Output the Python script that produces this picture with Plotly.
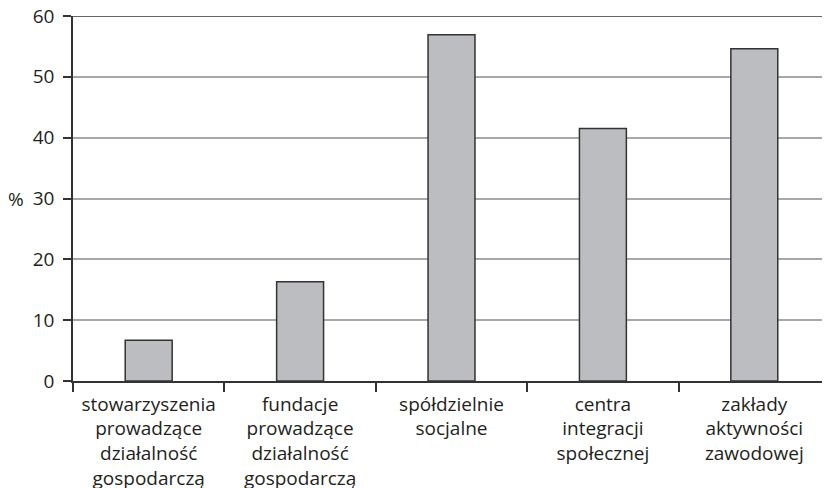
import plotly.graph_objects as go

categories = [
    "stowarzyszenia<br>prowadzące<br>działalność<br>gospodarczą",
    "fundacje<br>prowadzące<br>działalność<br>gospodarczą",
    "spółdzielnie<br>socjalne",
    "centra<br>integracji<br>społecznej",
    "zakłady<br>aktywności<br>zawodowej",
]
values = [6.7, 16.3, 56.9, 41.5, 54.6]
y_ticks = [0, 10, 20, 30, 40, 50, 60]

txt = "#231f20"
font = dict(family="Open Sans, Noto Sans, sans-serif", size=19, color=txt)

fig = go.Figure()
fig.add_trace(go.Bar(
    x=categories, y=values,
    marker=dict(color="#bcbdc1", line=dict(color="#333333", width=1.5)),
    width=0.31,
))

fig.update_layout(
    width=822, height=480,
    margin=dict(l=65, r=0, t=8, b=107, autoexpand=False),
    paper_bgcolor="white", plot_bgcolor="white",
    font=font,
    showlegend=False,
    xaxis=dict(
        type="category",
        tickson="boundaries",
        ticks="outside", ticklen=9, tickwidth=1.5, tickcolor="#333333",
        showline=True, linecolor="#333333", linewidth=1.5,
        showgrid=False,
        range=[-0.5, 4.5],
        ticklabelstandoff=5,
        ticklabeloverflow="allow",
        automargin=False,
    ),
    yaxis=dict(
        range=[0, 60],
        tickvals=y_ticks,
        ticks="outside", ticklen=8, tickwidth=1.5, tickcolor="#333333",
        showline=True, linecolor="#333333", linewidth=1.5,
        showgrid=True, gridcolor="#a8a8a8", gridwidth=1.5,
        zeroline=False,
        ticklabelstandoff=5,
        ticklabeloverflow="allow",
        automargin=False,
    ),
    shapes=[dict(type="line", xref="paper", yref="y", x0=0, x1=1, y0=60, y1=60,
                 line=dict(color="#333333", width=1.5))],
    annotations=[dict(text="%", xref="paper", yref="y", x=-0.062, y=30,
                      xanchor="right", yanchor="middle", showarrow=False, font=font)],
)

fig.write_html("out.html")
